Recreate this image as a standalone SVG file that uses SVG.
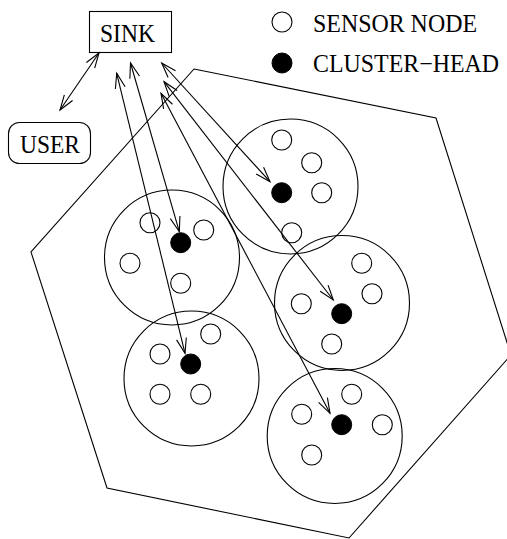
<svg xmlns="http://www.w3.org/2000/svg" width="507" height="539" viewBox="0 0 507 539">
  <defs>
    <style>
      .ln { fill: none; stroke: #000; stroke-width: 1.1; }
      .cl { fill: none; stroke: #000; stroke-width: 1.1; }
      .sn { fill: #fff; stroke: #000; stroke-width: 1.1; }
      .ch { fill: #000; stroke: #000; stroke-width: 1; }
      .tx { font-family: "Liberation Serif", "Times New Roman", serif; font-size: 25px; fill: #000; }
      .link { fill: none; stroke: #000; stroke-width: 1.1; marker-start: url(#vhead); marker-end: url(#vhead); }
    </style>
    <marker id="vhead" markerUnits="userSpaceOnUse" markerWidth="16" markerHeight="12" refX="15" refY="5" orient="auto-start-reverse" overflow="visible">
      <path d="M0,0 L15,5 L0,10" fill="none" stroke="#000" stroke-width="1.1"/>
    </marker>
  </defs>

  <rect width="507" height="539" fill="#fff"/>

  <!-- field boundary -->
  <g id="field">
    <polygon class="ln" points="194,69 436,118 511,355 349,538 107,488 31,252"/>
  </g>

  <!-- sink and user -->
  <g id="sink">
    <rect class="ln" x="89.5" y="11.5" width="82" height="41"/>
    <text class="tx" x="100" y="42" textLength="55" lengthAdjust="spacingAndGlyphs">SINK</text>
  </g>
  <g id="user">
    <rect class="ln" x="8.5" y="122.5" width="82" height="41" rx="11" ry="11"/>
    <text class="tx" x="20" y="153" textLength="60" lengthAdjust="spacingAndGlyphs">USER</text>
  </g>

  <!-- legend -->
  <g id="legend">
    <circle class="sn" cx="282" cy="22" r="10"/>
    <text class="tx" x="313" y="32" textLength="164" lengthAdjust="spacingAndGlyphs">SENSOR NODE</text>
    <circle class="ch" cx="282" cy="63" r="10"/>
    <text class="tx" x="313" y="72" textLength="186" lengthAdjust="spacingAndGlyphs">CLUSTER−HEAD</text>
  </g>

  <!-- clusters -->
  <g id="cluster-a">
    <circle class="cl" cx="290.5" cy="186.5" r="67.5"/>
    <circle class="sn" cx="281.7" cy="140" r="10"/>
    <circle class="sn" cx="311.7" cy="162.7" r="10"/>
    <circle class="sn" cx="321.7" cy="192.7" r="10"/>
    <circle class="sn" cx="291.7" cy="232.7" r="10"/>
    <circle class="ch" cx="281.7" cy="192.7" r="10"/>
  </g>
  <g id="cluster-b">
    <circle class="cl" cx="172" cy="257.5" r="67.5"/>
    <circle class="sn" cx="150" cy="222.7" r="10"/>
    <circle class="sn" cx="203.7" cy="230" r="10"/>
    <circle class="sn" cx="130" cy="263.3" r="10"/>
    <circle class="sn" cx="180.7" cy="283.3" r="10"/>
    <circle class="ch" cx="180.7" cy="242.7" r="10"/>
  </g>
  <g id="cluster-c">
    <circle class="cl" cx="191.5" cy="378.5" r="67.5"/>
    <circle class="sn" cx="160" cy="354" r="10"/>
    <circle class="sn" cx="210.7" cy="334" r="10"/>
    <circle class="sn" cx="160" cy="394.3" r="10"/>
    <circle class="sn" cx="200.7" cy="394.3" r="10"/>
    <circle class="ch" cx="190.7" cy="364" r="10"/>
  </g>
  <g id="cluster-d">
    <circle class="cl" cx="342" cy="303" r="67.5"/>
    <circle class="sn" cx="361.7" cy="263.3" r="10"/>
    <circle class="sn" cx="372" cy="293.7" r="10"/>
    <circle class="sn" cx="301.3" cy="303.7" r="10"/>
    <circle class="sn" cx="331.7" cy="344" r="10"/>
    <circle class="ch" cx="341.7" cy="313.7" r="10"/>
  </g>
  <g id="cluster-e">
    <circle class="cl" cx="334.7" cy="436" r="67.5"/>
    <circle class="sn" cx="351.7" cy="394.3" r="10"/>
    <circle class="sn" cx="301.7" cy="414.3" r="10"/>
    <circle class="sn" cx="382.3" cy="424.7" r="10"/>
    <circle class="sn" cx="311.7" cy="455" r="10"/>
    <circle class="ch" cx="341.7" cy="424.7" r="10"/>
  </g>

  <!-- connectors -->
  <g id="connectors">
    <line class="link" x1="99" y1="53" x2="60" y2="110"/>
    <line class="link" x1="116.7" y1="73.3" x2="185" y2="353.3"/>
    <line class="link" x1="130.5" y1="63" x2="179.3" y2="231.7"/>
    <line class="link" x1="161.7" y1="63" x2="270" y2="181.7"/>
    <line class="link" x1="164" y1="81.7" x2="333.3" y2="300"/>
    <line class="link" x1="161" y1="93.3" x2="330" y2="413.3"/>
  </g>
</svg>
